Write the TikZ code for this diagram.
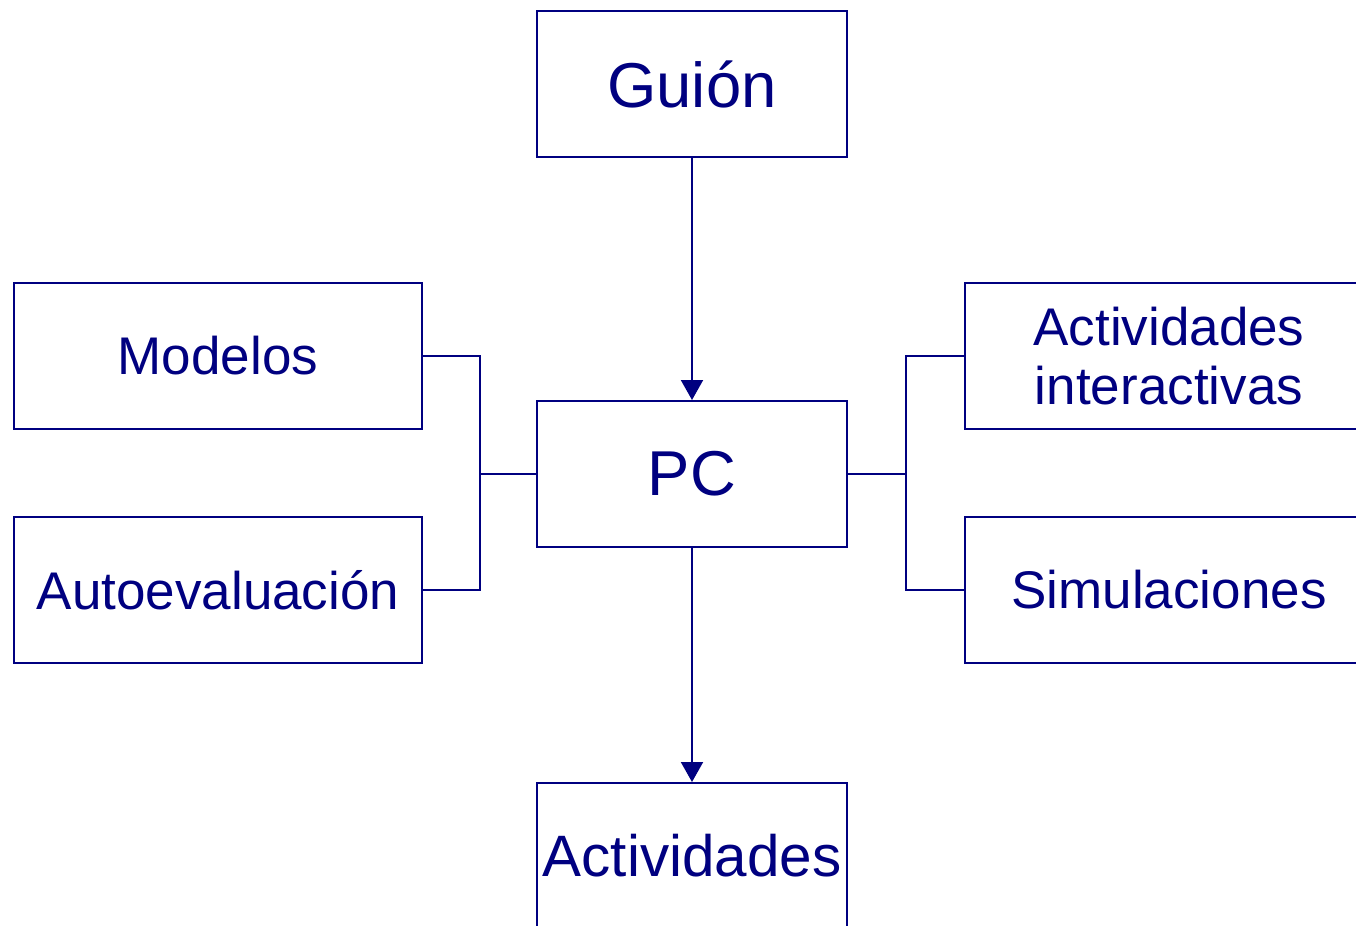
\documentclass[tikz,border=0pt]{standalone}
\usepackage{fontspec}
\setmainfont{Liberation Sans}
\usetikzlibrary{arrows.meta}
\definecolor{azul}{RGB}{0,0,128}
\tikzstyle{caja}=[rectangle, draw=azul, line width=1pt, text=azul, align=center, inner sep=0pt]
\tikzstyle{cajac}=[caja, minimum width=155pt, minimum height=73pt]
\tikzstyle{cajal}=[caja, minimum width=204pt, minimum height=73pt, font=\chico]
\newcommand{\grande}{\fontsize{31.7}{38}\selectfont}
\newcommand{\medio}{\fontsize{29.2}{35}\selectfont}
\newcommand{\chico}{\fontsize{26.5}{29.5}\selectfont}
\newcommand{\caja}{\node[cajac]}

\begin{document}
\begin{tikzpicture}[x=0.5pt, y=-0.5pt
  ,flecha/.style={draw=azul, line width=1pt, -{Triangle[length=10pt,width=11pt]}}
  ,linea/.style={draw=azul, line width=1pt}
]
\useasboundingbox (0,0) rectangle (1356,926);
\clip (0,0) rectangle (1356,926);
\caja[font=\grande] (guion) at (692,84) {Guión};
\caja[font=\grande] (pc) at (692,474) {PC};
\caja[font=\medio] (act) at (692,856) {Actividades};
\node[cajal] (mod) at (218,356) {Modelos};
\node[cajal] (auto) at (218,590) {Autoevaluación};
\node[cajal] (inter) at (1169,356) {Actividades\\interactivas};
\node[cajal] (sim) at (1169,590) {Simulaciones};
\coordinate (jl) at (480,474);
\coordinate (jr) at (906,474);
\path[flecha] (guion) -- (pc);
\path[flecha] (pc) -- (act);
\path[linea]
(mod.east) -| (jl) |- (auto.east)
(jl) -- (pc.west)
(inter.west) -| (jr) |- (sim.west)
(jr) -- (pc.east)
;
\end{tikzpicture}
\end{document}
